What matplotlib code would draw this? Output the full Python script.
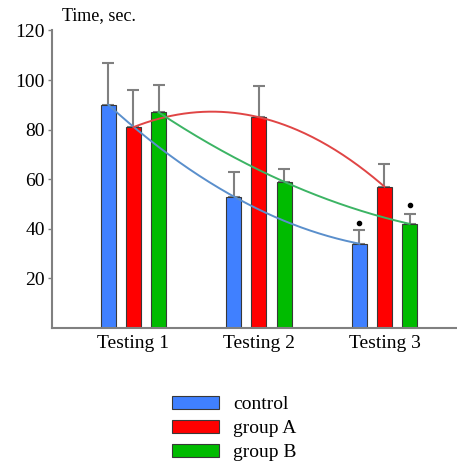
import numpy as np
import matplotlib
matplotlib.use('Agg')
import matplotlib.pyplot as plt

# Data
tests = ['Testing 1', 'Testing 2', 'Testing 3']
groups = ['control', 'group A', 'group B']
control = [90, 53, 34]
group_a = [81, 85, 57]
group_b = [87, 59, 42]
control_err = [17, 10, 5.5]
group_a_err = [15, 12.5, 9]
group_b_err = [11, 5, 4]
# significance dots (group index, test index, height)
dot_group = [0, 2]
dot_test = [2, 2]
dot_y = [42.5, 49.5]

bar_colors = ['#4080FF', '#FF0000', '#00BB00']
line_colors = ['#5A8FCC', '#E04545', '#3CB464']

plt.rcParams['font.family'] = ['Liberation Serif', 'DejaVu Serif']

fig = plt.figure(figsize=(4.57, 4.66), dpi=100)
ax = fig.add_axes([52 / 457, 138 / 466, 1 - 52 / 457, 298 / 466 * 0.9985])

x = np.arange(1, len(tests) + 1)
offset = 0.2
width = 0.12
values = [control, group_a, group_b]
errs = [control_err, group_a_err, group_b_err]

for i, (vals, err) in enumerate(zip(values, errs)):
    pos = x + (i - 1) * offset
    ax.bar(pos, vals, width=width, color=bar_colors[i], edgecolor='#383838',
           linewidth=0.8, label=groups[i], zorder=2)
    ax.errorbar(pos, vals, yerr=[np.zeros(len(err)), err], fmt='none',
                ecolor='#808080', elinewidth=1.5, capsize=4, capthick=1.5,
                zorder=1)
    # smooth trend through the three bar tops
    coef = np.polyfit(pos, vals, 2)
    xs = np.linspace(pos[0], pos[-1], 200)
    ax.plot(xs, np.polyval(coef, xs), color=line_colors[i], linewidth=1.4,
            zorder=3)

for g, t, yv in zip(dot_group, dot_test, dot_y):
    ax.plot(x[t] + (g - 1) * offset, yv, 'o', color='black', markersize=3)

ax.set_xlim(0.351, 3.578)
ax.set_ylim(0, 120)
ax.set_yticks([20, 40, 60, 80, 100, 120])
ax.set_xticks(x)
ax.set_xticklabels(tests, fontsize=14)
ax.tick_params(axis='x', length=0, pad=5)
ax.tick_params(axis='y', labelsize=14, length=3, width=1, color='#808080', pad=2)

for side in ['top', 'right']:
    ax.spines[side].set_visible(False)
for side in ['left', 'bottom']:
    ax.spines[side].set_color('#808080')
    ax.spines[side].set_linewidth(1.5)

fig.text(62 / 457, 1 - 16 / 466, 'Time, sec.', fontsize=13, va='center', ha='left')

handles, labels = ax.get_legend_handles_labels()
fig.legend(handles, labels, loc='upper left',
           bbox_to_anchor=(172 / 457, 1 - 396 / 466), frameon=False,
           fontsize=14, handlelength=2.4, handleheight=0.62,
           handletextpad=0.75, labelspacing=0.36, borderpad=0,
           borderaxespad=0)

fig.savefig('out.png', dpi=100)
